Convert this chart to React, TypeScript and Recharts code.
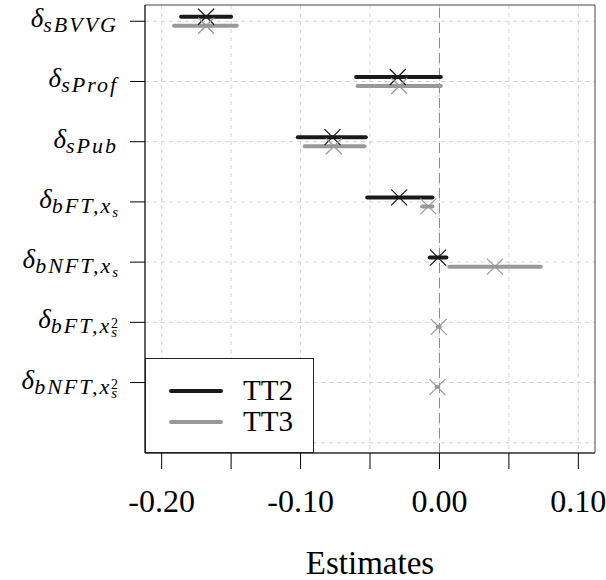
import React from 'react';
import {
  ComposedChart,
  Scatter,
  XAxis,
  YAxis,
  CartesianGrid,
  ReferenceLine,
  ReferenceArea,
  Legend,
} from 'recharts';

// row labels: delta with subscript, optional sub-sub index and power
const rowSubs = ['sBVVG', 'sProf', 'sPub', 'bFT,x', 'bNFT,x', 'bFT,x', 'bNFT,x'];
const rowIdx = ['', '', '', 's', 's', 's', 's'];
const rowPow = ['', '', '', '', '', '2', '2'];

// TT2 estimates and intervals (null = not estimated)
const tt2Est = [-0.168, -0.030, -0.077, -0.029, -0.001, null, null];
const tt2Lo = [-0.186, -0.060, -0.102, -0.052, -0.007, null, null];
const tt2Hi = [-0.150, 0.001, -0.053, -0.005, 0.005, null, null];

// TT3 estimates and intervals
const tt3Est = [-0.168, -0.029, -0.076, -0.008, 0.040, -0.0005, -0.0015];
const tt3Lo = [-0.191, -0.059, -0.097, -0.0125, 0.007, -0.0012, -0.0022];
const tt3Hi = [-0.146, 0.001, -0.054, -0.005, 0.073, 0.0002, -0.0008];

const xTicks = [-0.2, -0.15, -0.1, -0.05, 0, 0.05, 0.1];
const xLabelled = [-0.2, -0.1, 0, 0.1];
const rowTicks = [1, 2, 3, 4, 5, 6, 7];
const gridRows = [1, 2, 3, 4, 5, 6, 7, 8];

const seriesNames = ['TT2', 'TT3'];
const seriesColors = ['#1a1a1a', '#999999'];

const FONT = 'Liberation Serif';
const OFFSET = 0.075; // vertical dodge of the two series within a row

const intervals = (lo: (number | null)[], hi: (number | null)[], shift: number) =>
  lo
    .map((l, i) => (l === null || hi[i] === null ? null : [
      { x: l, y: i + 1 + shift },
      { x: hi[i] as number, y: i + 1 + shift },
    ]))
    .filter(Boolean) as { x: number; y: number }[][];

const points = (est: (number | null)[], shift: number) =>
  est
    .map((v, i) => (v === null ? null : { x: v, y: i + 1 + shift }))
    .filter(Boolean) as { x: number; y: number }[];

const tt2Segs = intervals(tt2Lo, tt2Hi, -OFFSET);
const tt3Segs = intervals(tt3Lo, tt3Hi, OFFSET);
const tt2Pts = points(tt2Est, -OFFSET);
const tt3Pts = points(tt3Est, OFFSET);

const Empty = () => <g />;

const makeCross = (color: string) => (props: any) => {
  const { cx, cy } = props;
  const h = 8;
  return (
    <path
      d={`M${cx - h},${cy - h}L${cx + h},${cy + h}M${cx - h},${cy + h}L${cx + h},${cy - h}`}
      stroke={color}
      strokeWidth={1.2}
      fill="none"
    />
  );
};

const YTick = (props: any) => {
  const { x, y, payload } = props;
  const i = payload.value - 1;
  if (i < 0 || i >= rowSubs.length) return null;
  return (
    <text x={x} y={y} textAnchor="end" fontFamily={FONT} fill="#000">
      <tspan fontSize={27} fontStyle="italic" dy={6}>δ</tspan>
      <tspan fontSize={22} fontStyle="italic" letterSpacing={2} dy={5}>{rowSubs[i]}</tspan>
      {rowIdx[i] && <tspan fontSize={15} fontStyle="italic" dy={4}>{rowIdx[i]}</tspan>}
      {rowPow[i] && <tspan fontSize={14} dx={-6} dy={-9}>{rowPow[i]}</tspan>}
    </text>
  );
};

const LegendBox = () => (
  <div
    style={{
      width: 169,
      height: 95,
      boxSizing: 'border-box',
      border: '1px solid #222',
      background: '#fff',
      padding: '16px 0 0 22px',
      fontFamily: FONT,
    }}
  >
    {seriesNames.map((name, i) => (
      <div key={name} style={{ display: 'flex', alignItems: 'center', height: 31 }}>
        <svg width={56} height={10}>
          <line x1={3} y1={5} x2={53} y2={5} stroke={seriesColors[i]} strokeWidth={4} strokeLinecap="round" />
        </svg>
        <span style={{ fontSize: 29, marginLeft: 19, lineHeight: '31px' }}>{name}</span>
      </div>
    ))}
  </div>
);

export default function App() {
  return (
    <div style={{ position: 'absolute', left: 0, top: 0, width: 606, height: 580, background: '#fff' }}>
      <ComposedChart width={606} height={580} margin={{ top: 5, right: 11, left: 0, bottom: 0 }}>
        <CartesianGrid
          stroke="#d3d3d3"
          strokeDasharray="4 4"
          horizontalValues={gridRows}
          verticalValues={xTicks}
        />
        <XAxis
          type="number"
          dataKey="x"
          domain={[-0.212, 0.112]}
          ticks={xTicks}
          allowDataOverflow
          height={127}
          tickSize={16}
          tickMargin={20}
          axisLine={{ stroke: '#222' }}
          tickLine={{ stroke: '#000' }}
          tick={{ fontSize: 32, fill: '#000', fontFamily: FONT }}
          tickFormatter={(v: number) => (xLabelled.some((t) => Math.abs(t - v) < 1e-9) ? v.toFixed(2) : '')}
          interval={0}
          label={{ value: 'Estimates', position: 'insideBottom', offset: 6, fontSize: 33, fill: '#000', fontFamily: FONT }}
        />
        <YAxis
          type="number"
          dataKey="y"
          domain={[0.73, 8.17]}
          reversed
          allowDataOverflow
          ticks={rowTicks}
          interval={0}
          width={145}
          tickSize={15}
          tickMargin={12}
          axisLine={{ stroke: '#222' }}
          tickLine={{ stroke: '#000' }}
          tick={<YTick />}
        />
        <ReferenceArea x1={-0.212} x2={0.112} y1={0.73} y2={8.17} fill="none" stroke="#444" strokeWidth={1} />
        <ReferenceLine x={0} stroke="#888" strokeDasharray="10 5" strokeWidth={1} />
        {tt2Segs.map((seg, i) => (
          <Scatter
            key={`tt2s${i}`}
            data={seg}
            line={{ stroke: seriesColors[0], strokeWidth: 4, strokeLinecap: 'round' }}
            lineType="joint"
            shape={<Empty />}
            isAnimationActive={false}
            legendType="none"
          />
        ))}
        {tt3Segs.map((seg, i) => (
          <Scatter
            key={`tt3s${i}`}
            data={seg}
            line={{ stroke: seriesColors[1], strokeWidth: 4, strokeLinecap: 'round' }}
            lineType="joint"
            shape={<Empty />}
            isAnimationActive={false}
            legendType="none"
          />
        ))}
        <Scatter name="TT2" data={tt2Pts} shape={makeCross(seriesColors[0])} isAnimationActive={false} />
        <Scatter name="TT3" data={tt3Pts} shape={makeCross(seriesColors[1])} isAnimationActive={false} />
        <Legend
          layout="vertical"
          verticalAlign="middle"
          align="center"
          content={<LegendBox />}
          wrapperStyle={{ position: 'absolute', left: 145, top: 358, width: 169 }}
        />
      </ComposedChart>
    </div>
  );
}
